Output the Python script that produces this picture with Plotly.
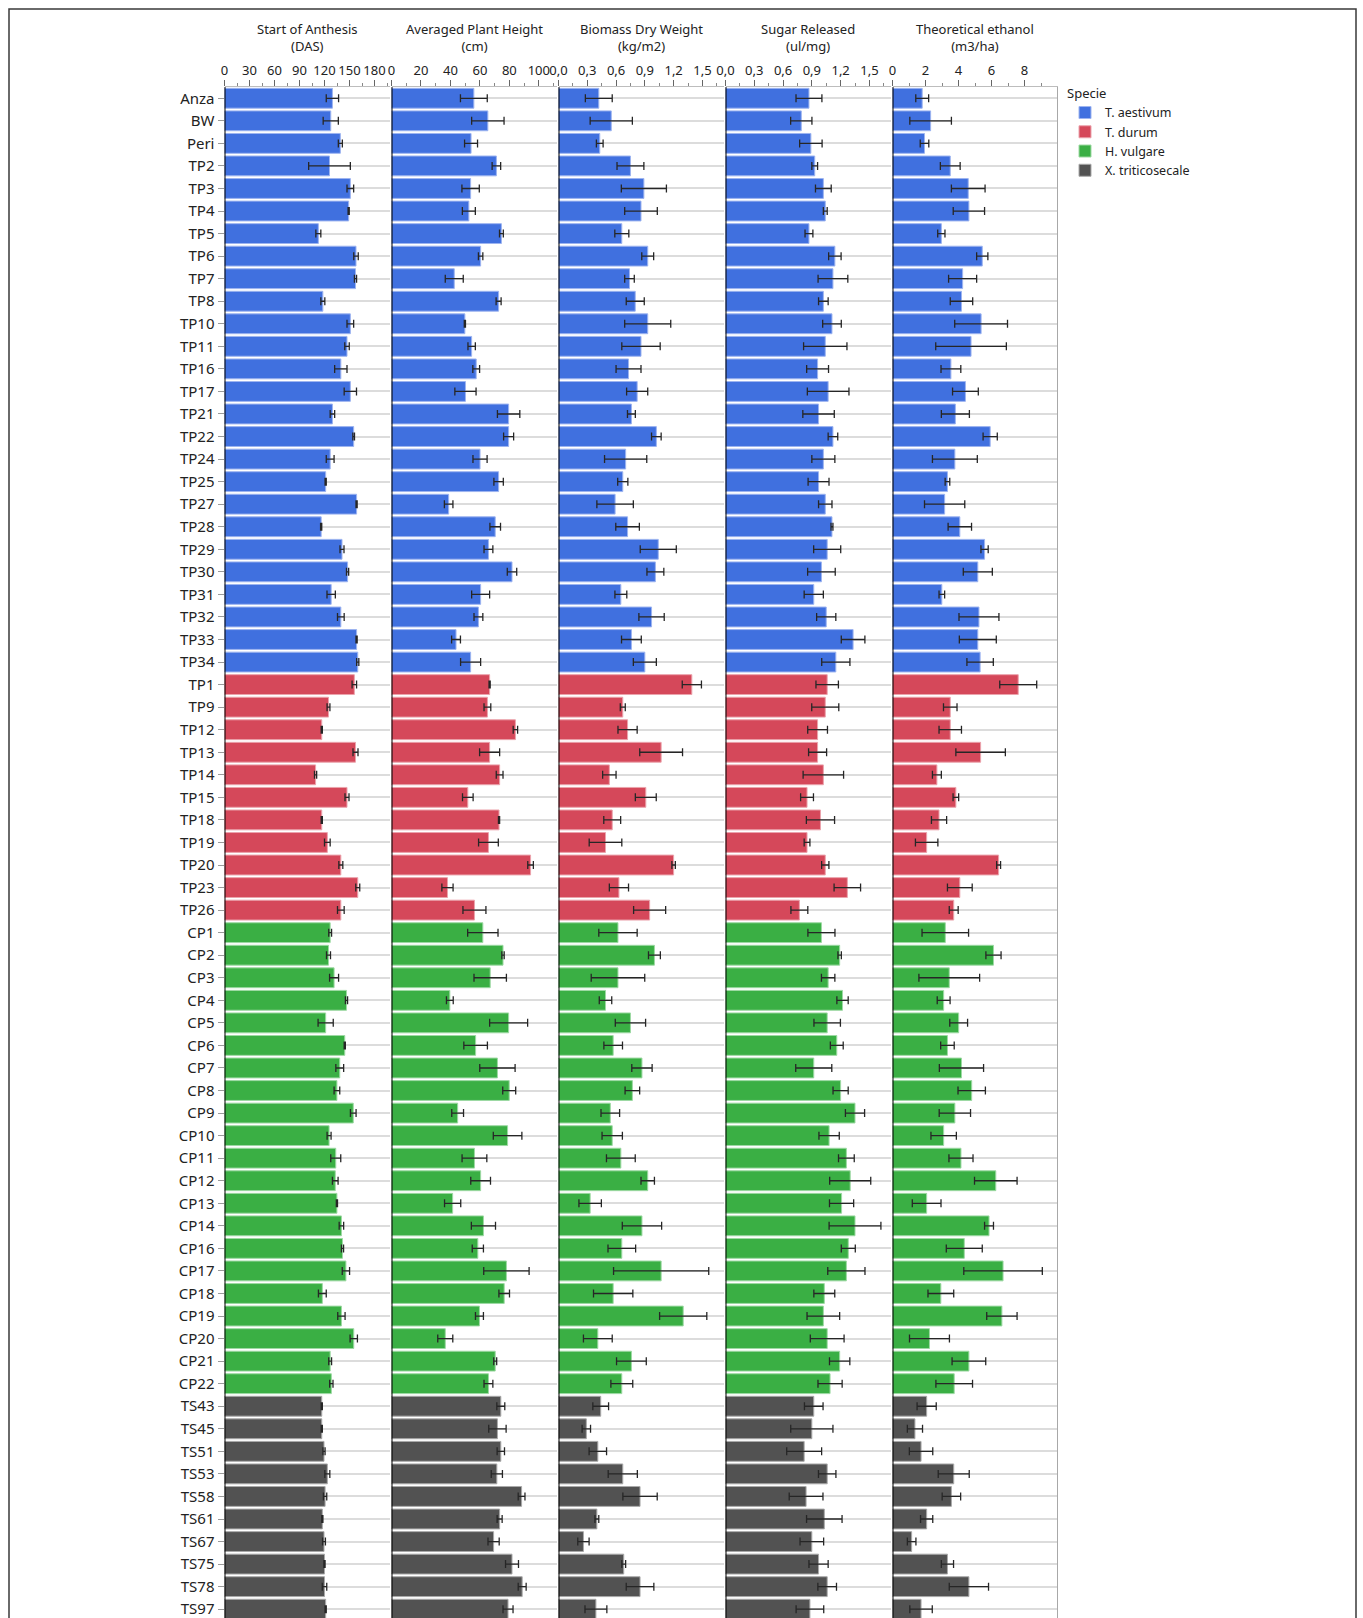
import plotly.graph_objects as go

# ---- data -------------------------------------------------------------
genotypes = [
    "Anza", "BW", "Peri", "TP2", "TP3", "TP4", "TP5", "TP6", "TP7", "TP8",
    "TP10", "TP11", "TP16", "TP17", "TP21", "TP22", "TP24", "TP25", "TP27", "TP28",
    "TP29", "TP30", "TP31", "TP32", "TP33", "TP34",
    "TP1", "TP9", "TP12", "TP13", "TP14", "TP15", "TP18", "TP19", "TP20", "TP23", "TP26",
    "CP1", "CP2", "CP3", "CP4", "CP5", "CP6", "CP7", "CP8", "CP9", "CP10",
    "CP11", "CP12", "CP13", "CP14", "CP16", "CP17", "CP18", "CP19", "CP20", "CP21", "CP22",
    "TS43", "TS45", "TS51", "TS53", "TS58", "TS61", "TS67", "TS75", "TS78", "TS97",
]

species_names = ["T. aestivum", "T. durum", "H. vulgare", "X. triticosecale"]
species_counts = [26, 11, 21, 10]

anthesis = [
    129.5, 127.5, 139.0, 126.0, 151.0, 149.0, 112.6, 157.8, 157.2, 118.0,
    151.0, 147.0, 139.6, 151.0, 129.5, 155.0, 126.8, 121.4, 158.5, 116.0,
    141.0, 147.7, 128.0, 139.6, 158.5, 159.9,
    155.8, 124.8, 116.7, 157.2, 109.3, 147.0, 116.7, 123.4, 139.6, 159.9, 139.6,
    126.8, 124.8, 131.5, 146.4, 121.4, 144.3, 138.3, 134.9, 154.5, 125.5,
    133.5, 132.9, 134.9, 140.3, 141.6, 145.7, 117.4, 140.3, 155.1, 126.8, 128.2,
    116.7, 116.7, 119.4, 123.4, 120.7, 117.4, 119.4, 120.0, 120.0, 121.4,
]
anthesis_err = [
    7.4, 9.1, 2.4, 25.0, 4.0, 0.7, 3.0, 2.7, 1.3, 2.4,
    4.0, 2.7, 7.4, 7.4, 2.7, 1.0, 4.7, 0.7, 0.7, 0.7,
    2.4, 1.3, 5.0, 4.0, 0.7, 1.3,
    2.7, 1.7, 0.7, 3.0, 1.3, 2.4, 0.7, 3.4, 2.4, 2.4, 4.0,
    1.7, 2.4, 5.4, 1.3, 9.1, 0.7, 4.7, 3.4, 3.4, 2.4,
    6.0, 3.4, 0.7, 2.7, 1.3, 4.4, 4.7, 4.4, 4.4, 1.7, 2.0,
    0.7, 0.7, 1.3, 3.0, 2.0, 0.7, 1.7, 0.7, 2.7, 0.7,
]

plant_height = [
    55.9, 65.4, 54.0, 71.2, 53.7, 52.5, 74.6, 60.5, 42.6, 72.7,
    49.8, 54.4, 57.5, 50.2, 79.5, 79.5, 60.1, 72.7, 38.8, 70.4,
    65.8, 81.8, 60.5, 59.0, 43.8, 53.7,
    66.6, 65.1, 84.1, 66.6, 73.4, 51.8, 73.0, 65.8, 94.4, 38.0, 56.3,
    62.0, 75.7, 67.0, 39.6, 79.5, 57.1, 71.9, 79.9, 44.9, 78.8,
    56.3, 60.5, 41.5, 62.4, 58.6, 78.0, 76.5, 59.7, 36.5, 70.4, 65.8,
    74.2, 71.9, 74.2, 71.5, 88.3, 73.4, 69.3, 81.8, 88.7, 79.1,
]
plant_height_err = [
    9.1, 11.0, 4.4, 2.9, 5.9, 4.4, 1.3, 1.5, 6.1, 1.7,
    0.4, 2.5, 2.3, 7.2, 7.6, 3.4, 4.8, 3.2, 2.9, 3.6,
    3.0, 3.2, 6.1, 3.0, 3.0, 6.8,
    0.4, 2.3, 1.5, 6.8, 2.3, 3.6, 0.4, 6.7, 1.9, 3.8, 7.8,
    10.3, 0.8, 11.0, 2.3, 12.9, 8.0, 12.0, 4.4, 4.0, 9.7,
    8.4, 6.7, 5.5, 8.2, 3.8, 15.4, 3.6, 2.7, 5.1, 1.0, 3.0,
    2.7, 5.9, 2.5, 3.8, 2.3, 1.7, 3.8, 4.4, 2.7, 3.4,
]

biomass = [
    0.42, 0.55, 0.43, 0.75, 0.89, 0.86, 0.66, 0.93, 0.74, 0.80,
    0.93, 0.86, 0.73, 0.82, 0.76, 1.02, 0.70, 0.67, 0.59, 0.72,
    1.04, 1.01, 0.65, 0.97, 0.76, 0.90,
    1.39, 0.67, 0.72, 1.07, 0.53, 0.91, 0.56, 0.49, 1.20, 0.63, 0.95,
    0.62, 1.00, 0.62, 0.49, 0.75, 0.57, 0.87, 0.77, 0.54, 0.56,
    0.65, 0.93, 0.33, 0.87, 0.66, 1.07, 0.57, 1.30, 0.41, 0.76, 0.66,
    0.44, 0.29, 0.41, 0.67, 0.85, 0.40, 0.26, 0.68, 0.85, 0.39,
]
biomass_err = [
    0.14, 0.22, 0.035, 0.14, 0.235, 0.17, 0.073, 0.062, 0.05, 0.094,
    0.24, 0.20, 0.13, 0.11, 0.041, 0.05, 0.22, 0.053, 0.19, 0.123,
    0.188, 0.088, 0.062, 0.132, 0.103, 0.12,
    0.10, 0.026, 0.10, 0.223, 0.07, 0.109, 0.088, 0.17, 0.018, 0.10, 0.167,
    0.20, 0.062, 0.279, 0.065, 0.158, 0.097, 0.106, 0.076, 0.097, 0.106,
    0.15, 0.07, 0.117, 0.205, 0.144, 0.496, 0.205, 0.246, 0.15, 0.155, 0.114,
    0.082, 0.044, 0.091, 0.152, 0.179, 0.02, 0.059, 0.02, 0.144, 0.114,
]

sugar = [
    0.87, 0.79, 0.89, 0.93, 1.02, 1.04, 0.87, 1.14, 1.12, 1.02,
    1.11, 1.04, 0.96, 1.07, 0.97, 1.12, 1.02, 0.97, 1.04, 1.11,
    1.06, 1.00, 0.92, 1.05, 1.33, 1.15,
    1.06, 1.04, 0.96, 0.96, 1.02, 0.85, 0.99, 0.85, 1.04, 1.27, 0.77,
    1.00, 1.19, 1.07, 1.22, 1.06, 1.16, 0.92, 1.20, 1.35, 1.08,
    1.26, 1.30, 1.21, 1.35, 1.28, 1.26, 1.03, 1.02, 1.06, 1.19, 1.09,
    0.92, 0.90, 0.82, 1.06, 0.84, 1.03, 0.90, 0.97, 1.06, 0.88,
]
sugar_err = [
    0.135, 0.111, 0.117, 0.03, 0.082, 0.02, 0.041, 0.065, 0.155, 0.05,
    0.097, 0.226, 0.114, 0.217, 0.164, 0.05, 0.12, 0.109, 0.07, 0.01,
    0.141, 0.144, 0.10, 0.10, 0.123, 0.147,
    0.117, 0.141, 0.103, 0.094, 0.211, 0.067, 0.147, 0.03, 0.038, 0.138, 0.088,
    0.141, 0.018, 0.07, 0.059, 0.138, 0.067, 0.188, 0.079, 0.10, 0.106,
    0.082, 0.214, 0.126, 0.27, 0.073, 0.194, 0.109, 0.17, 0.176, 0.106, 0.126,
    0.097, 0.22, 0.182, 0.091, 0.176, 0.185, 0.123, 0.10, 0.097, 0.144,
]

ethanol = [
    1.80, 2.31, 1.94, 3.50, 4.59, 4.63, 2.96, 5.44, 4.25, 4.18,
    5.37, 4.76, 3.54, 4.42, 3.81, 5.92, 3.78, 3.33, 3.16, 4.08,
    5.58, 5.17, 2.99, 5.24, 5.17, 5.31,
    7.62, 3.50, 3.50, 5.34, 2.69, 3.84, 2.82, 2.07, 6.43, 4.08, 3.71,
    3.20, 6.12, 3.44, 3.10, 4.01, 3.33, 4.18, 4.80, 3.78, 3.10,
    4.15, 6.26, 2.07, 5.85, 4.35, 6.70, 2.93, 6.63, 2.24, 4.63, 3.74,
    2.07, 1.36, 1.73, 3.71, 3.57, 2.07, 1.16, 3.33, 4.63, 1.73,
]
ethanol_err = [
    0.39, 1.26, 0.26, 0.60, 1.02, 0.95, 0.22, 0.34, 0.85, 0.68,
    1.60, 2.14, 0.60, 0.78, 0.85, 0.43, 1.36, 0.14, 1.22, 0.71,
    0.22, 0.88, 0.17, 1.21, 1.12, 0.80,
    1.12, 0.41, 0.68, 1.50, 0.27, 0.17, 0.46, 0.68, 0.12, 0.75, 0.27,
    1.41, 0.46, 1.84, 0.39, 0.54, 0.41, 1.34, 0.83, 0.95, 0.77,
    0.73, 1.29, 0.87, 0.27, 1.09, 2.38, 0.78, 0.92, 1.21, 1.02, 1.11,
    0.58, 0.46, 0.71, 0.94, 0.56, 0.37, 0.26, 0.37, 1.19, 0.68,
]

panel_titles = [
    "Start of Anthesis<br>(DAS)",
    "Averaged Plant Height<br>(cm)",
    "Biomass Dry Weight<br>(kg/m2)",
    "Sugar Released<br>(ul/mg)",
    "Theoretical ethanol<br>(m3/ha)",
]
panel_values = [anthesis, plant_height, biomass, sugar, ethanol]
panel_errors = [anthesis_err, plant_height_err, biomass_err, sugar_err, ethanol_err]

# axis ticks (major / minor) for each panel
major_ticks = [
    [0, 30, 60, 90, 120, 150, 180],
    [0, 20, 40, 60, 80, 100],
    [0.0, 0.3, 0.6, 0.9, 1.2, 1.5],
    [0.0, 0.3, 0.6, 0.9, 1.2, 1.5],
    [0, 2, 4, 6, 8],
]
minor_ticks = [
    [15, 45, 75, 105, 135, 165, 195],
    [10, 30, 50, 70, 90, 110],
    [0.15, 0.45, 0.75, 1.05, 1.35, 1.65],
    [0.15, 0.45, 0.75, 1.05, 1.35, 1.65],
    [1, 3, 5, 7, 9],
]
axis_max = [198, 112, 1.72, 1.72, 10.0]

# ---- styling ----------------------------------------------------------
fill_colors = ["#4070DF", "#D5485A", "#3AAF44", "#525252"]
edge_colors = ["#9DB4F0", "#EBA3AC", "#9DD9A3", "#A9A9A9"]
FONT = "Noto Sans"

W, H = 1363, 1618
TOP = 87
panel_left = [224.5, 391.5, 558.5, 725.5, 892.5]
panel_width = 165

# per-species index ranges
bounds = []
start = 0
for c in species_counts:
    bounds.append((start, start + c))
    start += c

fig = go.Figure()
for p in range(5):
    xa = "x" if p == 0 else f"x{p + 1}"
    vals, errs = panel_values[p], panel_errors[p]
    for s, (a, b) in enumerate(bounds):
        fig.add_trace(go.Bar(
            x=vals[a:b], y=genotypes[a:b], orientation="h",
            xaxis=xa, yaxis="y",
            name=species_names[s], legendgroup=species_names[s],
            showlegend=(p == 0),
            marker=dict(color=fill_colors[s], line=dict(color=edge_colors[s], width=1)),
            error_x=dict(type="data", array=errs[a:b], visible=True,
                         color="#262626", thickness=1.3, width=4),
            hoverinfo="x+y",
        ))

plot_h = H - TOP

layout = dict(
    width=W, height=H,
    margin=dict(l=0, r=0, t=TOP, b=0, autoexpand=False),
    paper_bgcolor="white", plot_bgcolor="white",
    font=dict(family=FONT, size=13, color="#222"),
    barmode="overlay", bargap=0.12,
    separators=", ",
    showlegend=True,
    legend=dict(
        title=dict(text="Specie", font=dict(size=13)),
        font=dict(size=12.5), x=1065 / W, xanchor="left",
        y=1.0 + 6 / plot_h, yanchor="top",
        tracegroupgap=0, bgcolor="rgba(0,0,0,0)",
    ),
    yaxis=dict(
        type="category", categoryorder="array", categoryarray=genotypes,
        range=[67.39, -0.5], anchor="x", automargin=False,
        showgrid=True, gridcolor="#DCDCDC", gridwidth=2,
        ticks="outside", ticklen=6, tickcolor="#9a9a9a",
        tickfont=dict(size=15, color="#222"), zeroline=False, showline=False,
    ),
)

shapes = []
annotations = []
for p in range(5):
    key = "xaxis" if p == 0 else f"xaxis{p + 1}"
    x0 = panel_left[p] / W
    x1 = (panel_left[p] + panel_width) / W
    fmt = ".1f" if p in (2, 3) else ""
    layout[key] = dict(
        domain=[x0, x1], range=[0, axis_max[p]], anchor="y", side="top",
        automargin=False,
        tickmode="array", tickvals=major_ticks[p], tickformat=fmt,
        ticks="outside", ticklen=6, tickcolor="#666", tickwidth=1,
        minor=dict(tickmode="array", tickvals=minor_ticks[p], ticks="outside",
                   ticklen=3, tickcolor="#888", showgrid=False),
        tickfont=dict(size=13, color="#222"),
        showgrid=False, zeroline=False,
        showline=True, linecolor="#BDBDBD", linewidth=1,
        fixedrange=True,
    )
    # black baseline at zero for each panel
    shapes.append(dict(
        type="line", xref="x" if p == 0 else f"x{p + 1}", yref="paper",
        x0=0, x1=0, y0=0, y1=1.0, line=dict(color="black", width=2), layer="above",
    ))
    annotations.append(dict(
        text=panel_titles[p], xref="paper", yref="paper",
        x=(x0 + x1) / 2, y=1.0, xanchor="center", yanchor="bottom", yshift=30,
        showarrow=False, font=dict(size=13, color="#222"), align="center",
    ))

# right border of the last panel
shapes.append(dict(
    type="line", xref="paper", yref="paper",
    x0=(panel_left[4] + panel_width) / W, x1=(panel_left[4] + panel_width) / W,
    y0=0, y1=1.0, line=dict(color="#A8A8A8", width=1), layer="above",
))
# outer frame
shapes.append(dict(
    type="rect", xref="paper", yref="paper",
    x0=9 / W, x1=1356 / W, y0=-0.05, y1=(H - 9) / plot_h,
    line=dict(color="#3a3a3a", width=1.5), fillcolor="rgba(0,0,0,0)", layer="above",
))

layout["shapes"] = shapes
layout["annotations"] = annotations
fig.update_layout(**layout)

fig.write_html("out.html")
